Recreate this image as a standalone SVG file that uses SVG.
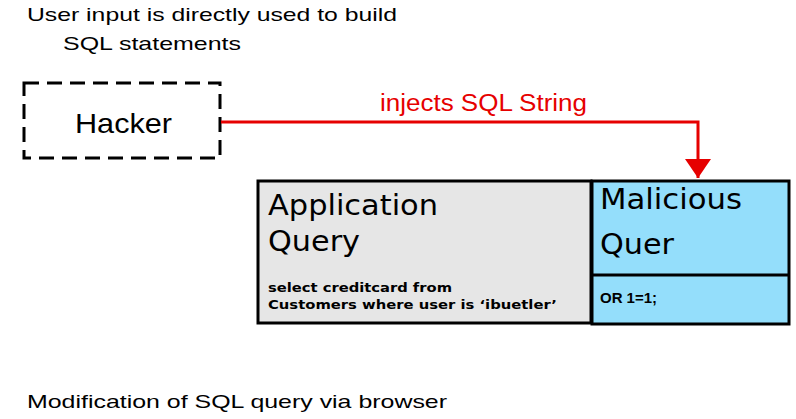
<svg xmlns="http://www.w3.org/2000/svg" width="796" height="419" viewBox="0 0 796 419">
<defs>
<style>
.lab{font-family:"Liberation Sans",Arial,sans-serif;font-size:19px;fill:#000}
.big{font-family:"DejaVu Sans",sans-serif;font-size:28px;fill:#000}
.sm{font-family:"DejaVu Sans",sans-serif;font-size:13px;font-weight:bold;fill:#000}
.box{stroke:#000;stroke-width:3}
</style>
<marker id="ah" markerWidth="26" markerHeight="20" refX="13" refY="19" markerUnits="userSpaceOnUse" orient="0">
<path d="M0,0 L26,0 L13,19 Z" fill="#e60000"/>
</marker>
</defs>
<rect width="796" height="419" fill="#fff"/>
<text class="lab" x="27" y="21" textLength="370" lengthAdjust="spacingAndGlyphs">User input is directly used to build</text>
<text class="lab" x="63" y="50" textLength="178" lengthAdjust="spacingAndGlyphs">SQL statements</text>
<g id="hacker">
<rect x="24" y="83" width="196" height="75" fill="none" stroke="#000" stroke-width="3" stroke-dasharray="15 8"/>
<text x="75" y="133" textLength="97" lengthAdjust="spacingAndGlyphs" style="font-family:'Liberation Sans',Arial,sans-serif;font-size:28px">Hacker</text>
</g>
<g id="appquery">
<rect class="box" x="258" y="181" width="333" height="142" fill="#e6e6e6"/>
<text class="big" x="268" y="215" textLength="170" lengthAdjust="spacingAndGlyphs">Application</text>
<text class="big" x="268" y="251" textLength="92" lengthAdjust="spacingAndGlyphs">Query</text>
<text class="sm" x="268" y="292" textLength="184" lengthAdjust="spacingAndGlyphs">select creditcard from</text>
<text class="sm" x="268" y="309" textLength="289" lengthAdjust="spacingAndGlyphs">Customers where user is ‘ibuetler’</text>
</g>
<g id="malicious">
<rect class="box" x="592" y="181" width="197" height="143" fill="#94defb"/>
<line class="box" x1="592" y1="275" x2="789" y2="275"/>
<text class="big" x="600" y="209" textLength="142" lengthAdjust="spacingAndGlyphs">Malicious</text>
<text class="big" x="600" y="254" textLength="74" lengthAdjust="spacingAndGlyphs">Quer</text>
<text x="600" y="303" textLength="57" lengthAdjust="spacingAndGlyphs" style="font-family:'Liberation Sans',Arial,sans-serif;font-size:14px;font-weight:bold">OR 1=1;</text>
</g>
<g id="connectors">
<path d="M221,122 H698 V178" fill="none" stroke="#e60000" stroke-width="3" marker-end="url(#ah)"/>
<text x="380" y="111" textLength="207" lengthAdjust="spacingAndGlyphs" style="font-family:'Liberation Sans',Arial,sans-serif;font-size:23px;fill:#e60000">injects SQL String</text>
</g>
<text class="lab" x="27" y="408" textLength="420" lengthAdjust="spacingAndGlyphs">Modification of SQL query via browser</text>
</svg>
